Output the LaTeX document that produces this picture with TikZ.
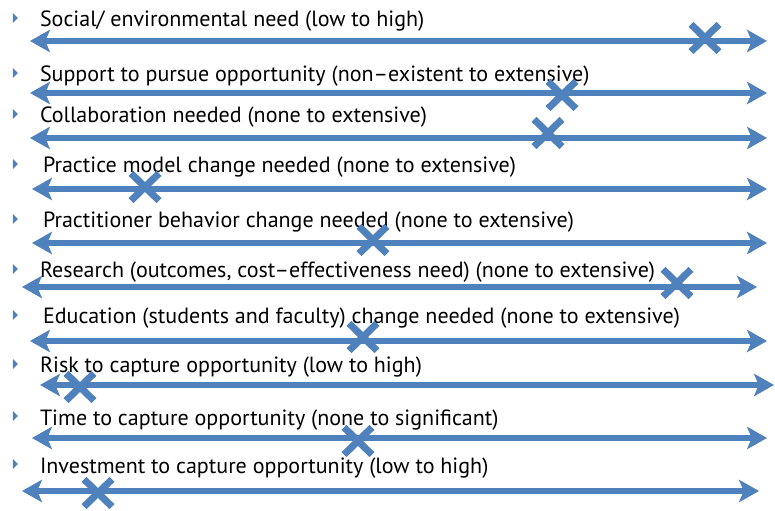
\documentclass[tikz,border=0pt]{standalone}
\usepackage{fontspec}
\setmainfont{PT Sans}
\usepackage{xcolor}
\usetikzlibrary{arrows.meta,shapes.misc,shapes.geometric}
\definecolor{barblue}{HTML}{4F81BD}

\begin{document}
\begin{tikzpicture}[x=0.03cm,y=-0.03cm]
\tikzstyle{every node}+=[inner sep=0pt,outer sep=0pt]
\tikzstyle{itemtext}=[anchor=base west,font=\fontsize{18.8}{22}\selectfont]
\tikzstyle{bullet}=[isosceles triangle,isosceles triangle stretches,fill=barblue,minimum height=0.15cm,minimum width=0.3cm]
\tikzstyle{scalebar}=[barblue,line width=4.3pt,{Stealth[length=17pt,width=19pt,inset=4pt]}-{Stealth[length=17pt,width=19pt,inset=4pt]}]
\tikzstyle{crossmark}=[cross out,draw=barblue,line width=6pt,minimum width=0.84cm,minimum height=0.82cm]
\useasboundingbox (0,0) rectangle (775,511);
\node [bullet] (b1) at (15,18) {};
\node [itemtext] (t1) at (40,27) {Social/ environmental need (low to high)};
\coordinate (l1) at (30,41);
\coordinate (r1) at (767,41);
\draw [scalebar] (l1) -- (r1);
\node [crossmark] (x1) at (705,38) {};
\node [bullet] (b2) at (15,73) {};
\node [itemtext] (t2) at (40,82) {Support to pursue opportunity (non–existent to extensive)};
\coordinate (l2) at (30,93);
\coordinate (r2) at (767,93);
\draw [scalebar] (l2) -- (r2);
\node [crossmark] (x2) at (562,95) {};
\node [bullet] (b3) at (15,114) {};
\node [itemtext] (t3) at (40,123) {Collaboration needed (none to extensive)};
\coordinate (l3) at (30,138);
\coordinate (r3) at (767,138);
\draw [scalebar] (l3) -- (r3);
\node [crossmark] (x3) at (548,133) {};
\node [bullet] (b4) at (15,164) {};
\node [itemtext] (t4) at (43,173) {Practice model change needed (none to extensive)};
\coordinate (l4) at (32,189);
\coordinate (r4) at (767,189);
\draw [scalebar] (l4) -- (r4);
\node [crossmark] (x4) at (145,187) {};
\node [bullet] (b5) at (15,219) {};
\node [itemtext] (t5) at (43,228) {Practitioner behavior change needed (none to extensive)};
\coordinate (l5) at (32,243);
\coordinate (r5) at (767,243);
\draw [scalebar] (l5) -- (r5);
\node [crossmark] (x5) at (373,240) {};
\node [bullet] (b6) at (15,269) {};
\node [itemtext] (t6) at (40,278) {Research (outcomes, cost–effectiveness need) (none to extensive)};
\coordinate (l6) at (22,287);
\coordinate (r6) at (757,287);
\draw [scalebar] (l6) -- (r6);
\node [crossmark] (x6) at (677,283) {};
\node [bullet] (b7) at (15,315) {};
\node [itemtext] (t7) at (43,324) {Education (students and faculty) change needed (none to extensive)};
\coordinate (l7) at (30,341);
\coordinate (r7) at (767,341);
\draw [scalebar] (l7) -- (r7);
\node [crossmark] (x7) at (363,337) {};
\node [bullet] (b8) at (15,364) {};
\node [itemtext] (t8) at (40,373) {Risk to capture opportunity (low to high)};
\coordinate (l8) at (40,385);
\coordinate (r8) at (774,385);
\draw [scalebar] (l8) -- (r8);
\node [crossmark] (x8) at (80,387) {};
\node [bullet] (b9) at (15,416) {};
\node [itemtext] (t9) at (40,425) {Time to capture opportunity (none to significant)};
\coordinate (l9) at (32,438);
\coordinate (r9) at (767,438);
\draw [scalebar] (l9) -- (r9);
\node [crossmark] (x9) at (358,441) {};
\node [bullet] (b10) at (15,464) {};
\node [itemtext] (t10) at (40,473) {Investment to capture opportunity (low to high)};
\coordinate (l10) at (22,491);
\coordinate (r10) at (759,491);
\draw [scalebar] (l10) -- (r10);
\node [crossmark] (x10) at (98,493) {};
\end{tikzpicture}
\end{document}
